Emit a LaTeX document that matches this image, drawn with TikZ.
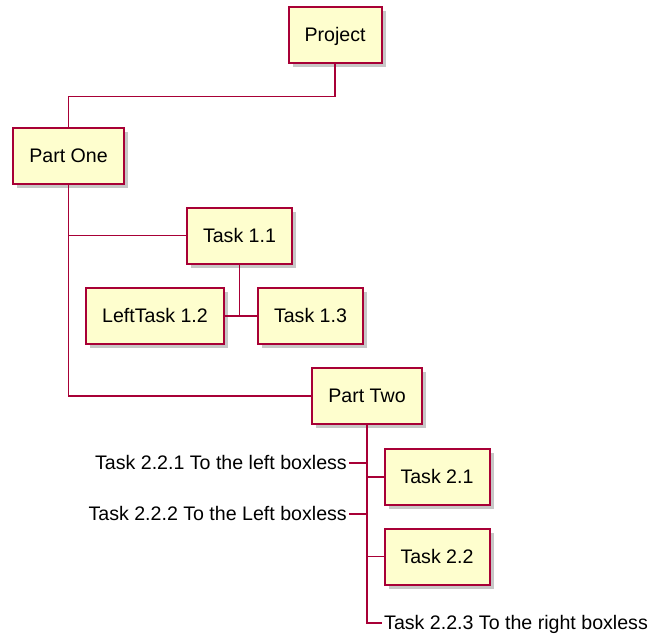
\documentclass[tikz,border=0pt]{standalone}
\usepackage{fontspec}
\setmainfont{Liberation Sans}
\usetikzlibrary{shadows}
\definecolor{wbsfill}{HTML}{FEFECE}
\definecolor{wbsline}{HTML}{A80036}
\begin{document}
\begin{tikzpicture}[x=1pt,y=-1pt,
  wbsbox/.style={draw=wbsline,fill=wbsfill,line width=2pt,minimum height=56pt,inner xsep=16pt,
    text height=13.7pt,text depth=0pt,font=\fontsize{19.6}{22}\selectfont,
    drop shadow={shadow xshift=4pt,shadow yshift=-4pt,fill=black!22,draw=none,opacity=1}},
  boxless/.style={inner xsep=2pt,inner ysep=0pt,text height=13.7pt,text depth=0pt,font=\fontsize{19.6}{22}\selectfont},
  wbsedge/.style={draw=wbsline,line width=1.4pt}]
\useasboundingbox (0,0) rectangle (652,637);
\node[wbsbox] (proj) at (335,35) {Project};
\node[wbsbox] (p1) at (68.5,156) {Part One};
\node[wbsbox] (t11) at (239.5,235.5) {Task 1.1};
\node[wbsbox] (t12) at (155,316) {LeftTask 1.2};
\node[wbsbox] (t13) at (310.5,316) {Task 1.3};
\node[wbsbox] (p2) at (367,396) {Part Two};
\node[wbsbox] (t21) at (437,477) {Task 2.1};
\node[wbsbox] (t22) at (437,556.5) {Task 2.2};
\node[boxless,anchor=east] (t221) at (349,463) {Task 2.2.1 To the left boxless};
\node[boxless,anchor=east] (t222) at (349,514) {Task 2.2.2 To the Left boxless};
\node[boxless,anchor=west] (t223) at (382,623) {Task 2.2.3 To the right boxless};
\draw[wbsedge] (proj.south) -- ++(0,32.5) -| (p1.north);
\draw[wbsedge] (p1.south) |- (t11.west);
\draw[wbsedge] (p1.south) |- (p2.west);
\draw[wbsedge] (t11.south) -- (t11.south |- t13.west);
\draw[wbsedge] (t12.east) -- (t13.west);
\draw[wbsedge] (p2.south) |- (t21.west);
\draw[wbsedge] (p2.south) |- (t22.west);
\draw[wbsedge] (p2.south) |- (t223.west);
\draw[wbsedge] (t221.east) -- (p2.south |- t221.east);
\draw[wbsedge] (t222.east) -- (p2.south |- t222.east);
\end{tikzpicture}
\end{document}
